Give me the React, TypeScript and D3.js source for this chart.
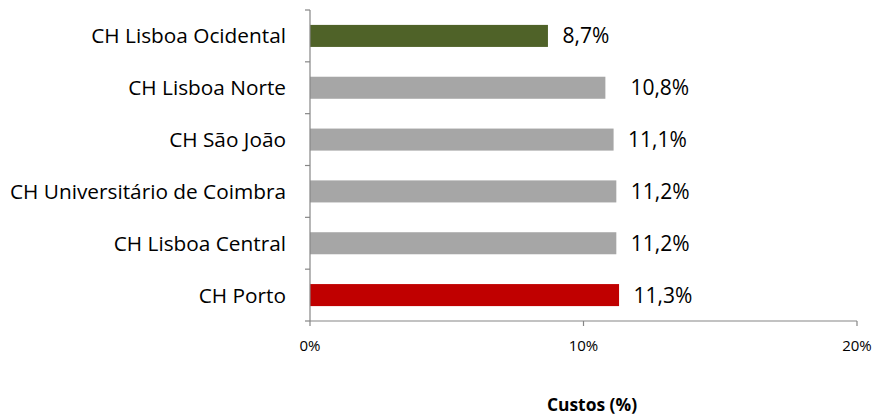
import React from "react";
import * as d3 from "d3";

const categories = [
  "CH Lisboa Ocidental",
  "CH Lisboa Norte",
  "CH São João",
  "CH Universitário de Coimbra",
  "CH Lisboa Central",
  "CH Porto",
];
const values = [8.7, 10.8, 11.1, 11.2, 11.2, 11.3];
const barColors = ["#4F6228", "#A6A6A6", "#A6A6A6", "#A6A6A6", "#A6A6A6", "#C00000"];
const xTicks = [0, 10, 20];
const axisTitle = "Custos (%)";

// label nudges (style only)
const labelDx: Record<string, number> = { "CH Lisboa Norte": 25 };

const W = 874;
const H = 419;
const FONT = "'Open Sans', 'Liberation Sans', Arial, sans-serif";

export default function App() {
  const x = d3.scaleLinear().domain([0, 20]).range([310, 857]);
  const y = d3
    .scaleBand<string>()
    .domain(categories)
    .range([10, 321])
    .paddingInner(0.575)
    .paddingOuter(0.2875);
  const step = y.step();
  const axisColor = "#868686";
  const fmt = (v: number) => v.toFixed(1).replace(".", ",") + "%";

  return (
    <svg
      width={W}
      height={H}
      style={{ position: "absolute", left: 0, top: 0, background: "#fff" }}
      fontFamily={FONT}
    >
      {categories.map((c, i) => {
        const yc = (y(c) as number) + y.bandwidth() / 2;
        return (
          <g key={c}>
            <rect
              x={x(0)}
              y={y(c)}
              width={x(values[i]) - x(0)}
              height={y.bandwidth()}
              fill={barColors[i]}
            />
            <text
              x={x(values[i]) + (labelDx[c] ?? 14.5)}
              y={yc + 7.5}
              fontSize={21}
              fill="#000"
            >
              {fmt(values[i])}
            </text>
            <text x={286} y={yc + 7.5} fontSize={20.8} textAnchor="end" fill="#000">
              {c}
            </text>
          </g>
        );
      })}
      {/* vertical axis */}
      <line x1={x(0)} x2={x(0)} y1={10} y2={321} stroke={axisColor} strokeWidth={1.2} />
      {d3.range(categories.length + 1).map((k) => (
        <line
          key={k}
          x1={x(0) - 5}
          x2={x(0)}
          y1={10 + k * step}
          y2={10 + k * step}
          stroke={axisColor}
          strokeWidth={1.2}
        />
      ))}
      {/* horizontal axis */}
      <line x1={x(0)} x2={x(20)} y1={321} y2={321} stroke={axisColor} strokeWidth={1.2} />
      {xTicks.map((t) => (
        <g key={t}>
          <line x1={x(t)} x2={x(t)} y1={321} y2={326} stroke={axisColor} strokeWidth={1.2} />
          <text x={x(t)} y={351} fontSize={15} textAnchor="middle" fill="#000">
            {t + "%"}
          </text>
        </g>
      ))}
      <text x={592} y={411} fontSize={17.4} fontWeight="bold" textAnchor="middle" fill="#000">
        {axisTitle}
      </text>
    </svg>
  );
}
